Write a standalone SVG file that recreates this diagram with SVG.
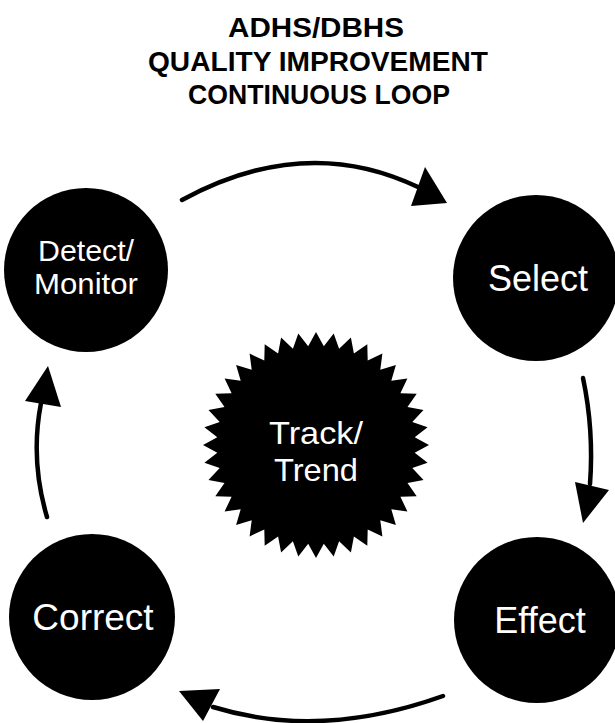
<svg xmlns="http://www.w3.org/2000/svg" width="615" height="723" viewBox="0 0 615 723">
  <style>
    .title { font-family: "Liberation Sans", Arial, sans-serif; font-weight: bold; font-size: 27px; fill: #000; text-anchor: middle; }
    .node { fill: #000; }
    .label { font-family: "Liberation Sans", Arial, sans-serif; font-size: 36px; fill: #fff; text-anchor: middle; }
    .two { font-size: 29px; }
    .hub { font-size: 32px; }
    .arc { fill: none; stroke: #000; stroke-width: 4.5; stroke-linecap: round; }
    .head { fill: #000; }
  </style>

  <g id="title">
    <text class="title" x="316" y="37" textLength="176" lengthAdjust="spacingAndGlyphs">ADHS/DBHS</text>
    <text class="title" x="318" y="71" textLength="340" lengthAdjust="spacingAndGlyphs">QUALITY IMPROVEMENT</text>
    <text class="title" x="319" y="104" textLength="262" lengthAdjust="spacingAndGlyphs">CONTINUOUS LOOP</text>
  </g>

  <!-- loop connectors, clockwise -->
  <g id="connectors">
    <path class="arc" d="M182,200 Q305,133 418,187"/>
    <polygon class="head" points="425,167 447,203 411,206"/>
    <path class="arc" d="M583,378 Q594,430 590,484"/>
    <polygon class="head" points="575,482 609,490 583,523"/>
    <path class="arc" d="M443,696 Q320,740 213,707"/>
    <polygon class="head" points="179,691 220,689 203,721"/>
    <path class="arc" d="M47,517 Q30,460 41,403"/>
    <polygon class="head" points="25,401 48,366 61,407"/>
  </g>

  <g id="detect-monitor">
    <circle class="node" cx="86" cy="270" r="82"/>
    <text class="label two" x="86" y="261" textLength="96" lengthAdjust="spacingAndGlyphs">Detect/</text>
    <text class="label two" x="86" y="294" textLength="104" lengthAdjust="spacingAndGlyphs">Monitor</text>
  </g>

  <g id="select">
    <circle class="node" cx="536" cy="278" r="83"/>
    <text class="label" x="538" y="291">Select</text>
  </g>

  <g id="effect">
    <circle class="node" cx="537" cy="620" r="83"/>
    <text class="label" x="540" y="633">Effect</text>
  </g>

  <g id="correct">
    <circle class="node" cx="92" cy="617" r="83"/>
    <text class="label" x="93" y="630" style="font-size:37px">Correct</text>
  </g>

  <g id="track-trend">
    <polygon class="node" points="429,445 414.7,452.8 427.6,462.7 412.3,468.1 423.5,479.9 407.5,482.9 416.7,496.3 400.4,496.7 407.4,511.4 391.3,509.3 395.9,524.9 380.3,520.3 382.4,536.4 367.7,529.4 367.3,545.7 353.9,536.5 350.9,552.5 339.1,541.3 333.7,556.6 323.8,543.7 316,558 308.2,543.7 298.3,556.6 292.9,541.3 281.1,552.5 278.1,536.5 264.7,545.7 264.3,529.4 249.6,536.4 251.7,520.3 236.1,524.9 240.7,509.3 224.6,511.4 231.6,496.7 215.3,496.3 224.5,482.9 208.5,479.9 219.7,468.1 204.4,462.7 217.3,452.8 203,445 217.3,437.2 204.4,427.3 219.7,421.9 208.5,410.1 224.5,407.1 215.3,393.7 231.6,393.3 224.6,378.6 240.7,380.7 236.1,365.1 251.7,369.7 249.6,353.6 264.3,360.6 264.7,344.3 278.1,353.5 281.1,337.5 292.9,348.7 298.3,333.4 308.2,346.3 316,332 323.8,346.3 333.7,333.4 339.1,348.7 350.9,337.5 353.9,353.5 367.3,344.3 367.7,360.6 382.4,353.6 380.3,369.7 395.9,365.1 391.3,380.7 407.4,378.6 400.4,393.3 416.7,393.7 407.5,407.1 423.5,410.1 412.3,421.9 427.6,427.3 414.7,437.2"/>
    <text class="label hub" x="316" y="444" textLength="94" lengthAdjust="spacingAndGlyphs">Track/</text>
    <text class="label hub" x="316" y="481" textLength="84" lengthAdjust="spacingAndGlyphs">Trend</text>
  </g>
</svg>
